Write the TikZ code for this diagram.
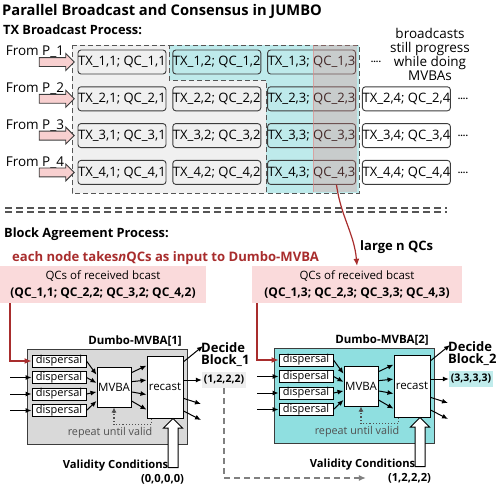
\documentclass[tikz,border=0pt]{standalone}
\usepackage{fontspec}
\setmainfont{Open Sans}
\usetikzlibrary{shapes.arrows,calc,arrows.meta}
\definecolor{grayreg}{RGB}{240,240,240}
\definecolor{tealreg}{RGB}{190,234,235}
\definecolor{boxline}{RGB}{60,60,60}
\definecolor{pinkfill}{RGB}{248,208,208}
\definecolor{pinkbg}{RGB}{250,218,219}
\definecolor{redc}{RGB}{168,45,45}
\definecolor{mvbagray}{RGB}{217,217,217}
\definecolor{mvbateal}{RGB}{143,223,224}
\definecolor{outgray}{RGB}{238,238,238}
\definecolor{outteal}{RGB}{192,236,236}
\definecolor{ovl}{RGB}{226,136,134}
\definecolor{dashgray}{RGB}{85,85,85}
\definecolor{txtgray}{RGB}{80,80,80}
\tikzset{
  tx/.style={draw=boxline, line width=0.9pt, rounded corners=3pt, minimum width=88pt, minimum height=24pt, inner sep=0pt, font=\fontsize{13}{15}\selectfont},
  pinkarrow/.style={single arrow, draw=boxline, fill=pinkfill, line width=0.9pt, minimum height=35pt, inner sep=4pt, single arrow head extend=4pt},
  fromlbl/.style={inner sep=0pt, font=\fontsize{13.5}{15}\selectfont},
  heading/.style={inner sep=0pt, anchor=west, font=\bfseries\fontsize{12.8}{15}\selectfont},
  dotsn/.style={inner sep=0pt, font=\bfseries\fontsize{9}{10}\selectfont},
  regionline/.style={dashgray, line width=1pt, dash pattern=on 5pt off 3pt},
  dbl/.style={dashgray, line width=1.2pt, dash pattern=on 7pt off 4pt},
  pinkbox/.style={fill=pinkbg, minimum width=#1, minimum height=37pt, inner sep=0pt, align=center, font=\fontsize{11.5}{16.5}\selectfont},
  redarrow/.style={draw=redc, line width=1.2pt, -{Latex[length=7pt,width=6pt]}},
  mbox/.style={draw=boxline, line width=1pt, minimum width=160pt, minimum height=95pt, inner sep=0pt},
  mtitle/.style={inner sep=0pt, font=\bfseries\fontsize{11.5}{13}\selectfont},
  disp/.style={draw=black, fill=white, line width=1pt, minimum width=54pt, minimum height=12pt, inner sep=0pt, font=\fontsize{11}{12}\selectfont},
  mvbab/.style={draw=black, fill=white, line width=1pt, minimum width=34pt, minimum height=40pt, inner sep=0pt, font=\fontsize{11.5}{12}\selectfont},
  recb/.style={draw=black, fill=white, line width=1pt, minimum width=36pt, minimum height=62pt, inner sep=0pt, font=\fontsize{11.5}{12}\selectfont},
  blk/.style={black, line width=1pt, -{Latex[length=6pt,width=5pt]}},
  decide/.style={inner sep=0pt, align=left, font=\bfseries\fontsize{13}{12.5}\selectfont},
  outb/.style={minimum width=44pt, minimum height=16pt, inner sep=0pt, font=\bfseries\fontsize{10.5}{12}\selectfont},
  rep/.style={inner sep=0pt, text=txtgray, font=\fontsize{10.8}{12}\selectfont},
  dotline/.style={txtgray, line width=1.1pt, dotted, -{Latex[length=5pt,width=5pt]}},
  hollow/.style={single arrow, draw=black, fill=white, line width=1pt, shape border rotate=90, minimum height=49pt, inner sep=4.5pt, single arrow head extend=4.5pt},
  valid/.style={inner sep=0pt, font=\bfseries\fontsize{11.2}{12}\selectfont},
  graydash/.style={draw=gray, line width=1.2pt, dash pattern=on 6pt off 4pt, -{Latex[length=7pt,width=6pt]}},
}
% #1 prefix, #2 #3 shift, #4 fill, #5 title, #6 block name, #7 output, #8 output fill, #9 validity value
\newcommand\mvbablock[9]{%
\begin{scope}[shift={(#2,#3)}]
  \node[mbox, fill=#4] (#1box) at (107,396.5) {};
  \node[mtitle] (#1title) at (135,341) {#5};
  \node[disp] (#1d1) at (59,361) {dispersal};
  \node[disp] (#1d2) at (59,377.5) {dispersal};
  \node[disp] (#1d3) at (59,394) {dispersal};
  \node[disp] (#1d4) at (59,410.5) {dispersal};
  \node[mvbab] (#1mvba) at (114,387) {MVBA};
  \node[recb] (#1rec) at (165,387) {recast};
  \node[decide, anchor=north west] (#1dec) at (201,342) {Decide\\#6};
  \node[outb, fill=#8] (#1out) at (224,380) {#7};
  \node[rep] (#1rep) at (110,433) {repeat until valid};
  \node[hollow] (#1hol) at (173,445.5) {};
  \node[valid, anchor=east] (#1val) at (168.5,466) {Validity Conditions};
  \node[valid] (#1valv) at (162.5,479) {#9};
  \coordinate (#1in1) at (10,361);
  \coordinate (#1in2) at (10,377.5);
  \coordinate (#1in3) at (10,394);
  \coordinate (#1in4) at (10,410.5);
  \coordinate (#1o1) at (203,346);
  \coordinate (#1o3) at (201,404);
  \coordinate (#1o4) at (201,420);
  \foreach \i in {2,3,4} \draw[blk] (#1in\i) -- (#1d\i.west);
  \foreach \i/\f in {1/0.2,2/0.4,3/0.62,4/0.84}
    \draw[blk] (#1d\i.east) -- ($(#1mvba.north west)!\f!(#1mvba.south west)$);
  \foreach \a/\b in {0.15/0.16,0.37/0.39,0.62/0.62,0.84/0.86}
    \draw[blk] ($(#1mvba.north east)!\a!(#1mvba.south east)$) -- ($(#1rec.north west)!\b!(#1rec.south west)$);
  \draw[blk] ($(#1rec.north east)!0.1!(#1rec.south east)$) -- (#1o1);
  \draw[blk] (#1rec.east |- #1out.west) -- (#1out.west);
  \draw[blk] ($(#1rec.north east)!0.68!(#1rec.south east)$) -- (#1o3);
  \draw[blk] ($(#1rec.north east)!0.88!(#1rec.south east)$) -- (#1o4);
  \draw[dotline] ($(#1rec.south west)!0.14!(#1rec.south east)$) -- ++(0,6) -| (#1mvba.south);
\end{scope}}
\begin{document}
\begin{tikzpicture}[x=1pt,y=-1pt]
\useasboundingbox (0,0) rectangle (496,485);
% headings
\node[inner sep=0pt, anchor=west, font=\bfseries\fontsize{14.7}{16}\selectfont] (title) at (2,11) {Parallel Broadcast and Consensus in JUMBO};
\node[heading] (txh) at (3,30) {TX Broadcast Process:};
% regions
\fill[grayreg] (72,45) -- (169,45) -- (169,80) -- (266,80) -- (266,193) -- (72,193) -- cycle;
\fill[tealreg] (169,45) -- (359,45) -- (359,193) -- (266,193) -- (266,80) -- (169,80) -- cycle;
\draw[regionline] (72,45) -- (169,45) -- (169,80) -- (266,80) -- (266,193) -- (72,193) -- cycle;
\draw[regionline] (169,45) -- (359,45) -- (359,193) -- (266,193);
% tx boxes
\foreach \r in {1,...,4}{
  \foreach \c in {1,2,3}{
    \node[tx] (r\r\c) at ({122+94.8*(\c-1)},{62+36.8*(\r-1)}) {TX\_\r,\c; QC\_\r,\c};
  }
  \node[fromlbl] (f\r) at (35,{52+36.8*(\r-1)}) {From P\_\r};
  \node[pinkarrow] (a\r) at (54.5,{62+36.8*(\r-1)}) {};
}
\foreach \r in {2,3,4}{
  \node[tx, fill=white] (r\r4) at (406.4,{62+36.8*(\r-1)}) {TX\_\r,4; QC\_\r,4};
  \node[dotsn] (dots\r) at (463,{62+36.8*(\r-1)}) {....};
}
\node[dotsn] (dots1) at (376,62) {....};
\fill[ovl, fill opacity=0.3] (313,45) rectangle (357,192);
\draw[ovl, opacity=0.6, line width=0.6pt] (313.5,45) -- (313.5,192);
\node[inner sep=0pt, align=center, font=\fontsize{13.5}{14}\selectfont] (bnote) at (430,54) {broadcasts\\still progress\\while doing\\MVBAs};
% separator
\draw[dbl] (5,208) -- (447,208);
\draw[dbl] (5,212) -- (447,212);
\node[heading] (bah) at (4,234) {Block Agreement Process:};
\node[inner sep=0pt, anchor=west, text=redc, font=\bfseries\fontsize{13.1}{15}\selectfont] (each) at (12,258) {each node takes\textit{n}QCs as input to Dumbo-MVBA};
\node[heading, font=\bfseries\fontsize{13}{15}\selectfont] (large) at (360,247) {large n QCs};
% pink boxes
\node[pinkbox=206pt] (pL) at (103,284.5) {QCs of received bcast\\\textbf{\fontsize{12}{16.5}\selectfont(QC\_1,1; QC\_2,2; QC\_3,2; QC\_4,2)}};
\node[pinkbox=210pt] (pR) at (357,284.5) {QCs of received bcast\\\textbf{\fontsize{12}{16.5}\selectfont(QC\_1,3; QC\_2,3; QC\_3,3; QC\_4,3)}};
\draw[redarrow] ($(r43.south west)!0.78!(r43.south east)$) to[out=-82, in=95] (pR.north);
% blocks
\mvbablock{L}{0}{0}{mvbagray}{Dumbo-MVBA[1]}{Block\_1}{(1,2,2,2)}{outgray}{(0,0,0,0)}
\mvbablock{R}{247}{-1}{mvbateal}{Dumbo-MVBA[2]}{Block\_2}{(3,3,3,3)}{outteal}{(1,2,2,2)}
\draw[redarrow] (pL.south -| Lin1) |- (Ld1.west);
\draw[redarrow] (pR.south -| Rin1) |- (Rd1.west);
\draw[graydash, shorten >=22pt] (Lout.south) |- (Rvalv.west);
\end{tikzpicture}
\end{document}
